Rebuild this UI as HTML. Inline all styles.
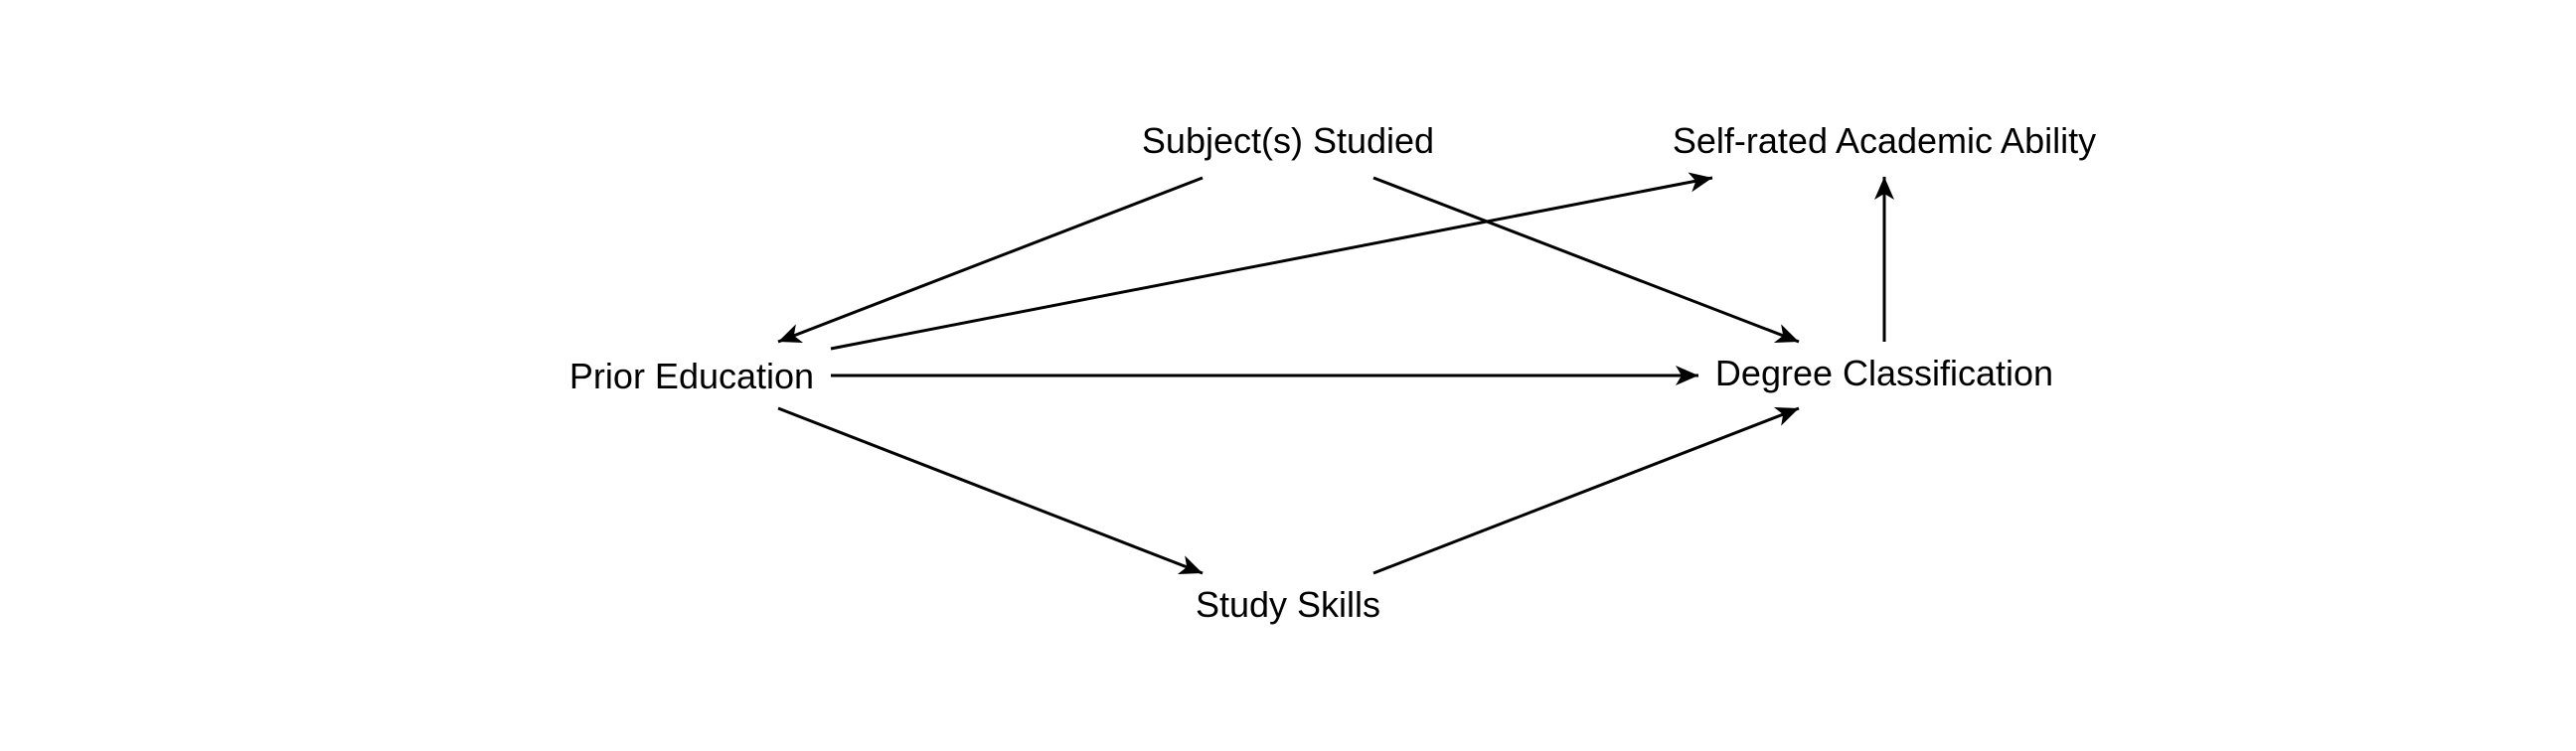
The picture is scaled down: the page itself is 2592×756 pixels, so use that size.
<!DOCTYPE html>
<html><head><meta charset="utf-8"><style>
html,body{margin:0;padding:0;background:#fff;}
svg{display:block;}
text{font-family:"Liberation Sans",sans-serif;font-size:36px;fill:#000;}
</style></head><body>
<svg width="2592" height="756" viewBox="0 0 2592 756" xmlns="http://www.w3.org/2000/svg">
<defs>
<marker id="a" viewBox="0 0 30 30" refX="26" refY="15" markerWidth="30" markerHeight="30" markerUnits="userSpaceOnUse" orient="auto">
<path d="M26,15 L3,5 L9,15 L3,25 Z" fill="#000"/>
</marker>
</defs>
<g stroke="#000" stroke-width="3" fill="none" marker-end="url(#a)">
<line x1="1210" y1="179" x2="783" y2="344"/>
<line x1="1382" y1="179" x2="1810" y2="344"/>
<line x1="836" y1="351" x2="1723" y2="179"/>
<line x1="836" y1="378" x2="1709" y2="378"/>
<line x1="1896" y1="344" x2="1896" y2="178"/>
<line x1="783" y1="411" x2="1210" y2="577"/>
<line x1="1382" y1="577" x2="1810" y2="411"/>
</g>
<g text-anchor="middle">
<text x="1296" y="154">Subject(s) Studied</text>
<text x="1896" y="154">Self-rated Academic Ability</text>
<text x="696" y="391">Prior Education</text>
<text x="1896" y="388">Degree Classification</text>
<text x="1296" y="621">Study Skills</text>
</g>
</svg>
</body></html>
